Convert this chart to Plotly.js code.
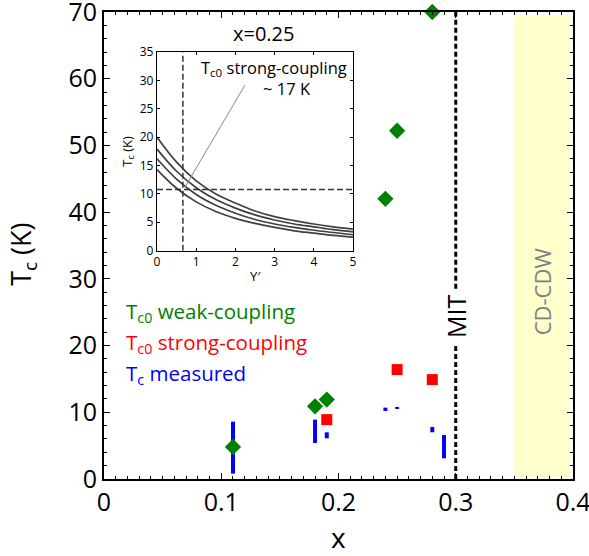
<!DOCTYPE html>
<html>
<head>
<meta charset="utf-8">
<script src="https://cdn.plot.ly/plotly-3.0.1.min.js"></script>
<style>html,body{margin:0;padding:0;background:#fff;}#chart{width:589px;height:556px;}</style>
</head>
<body>
<div id="chart"></div>
<script>
// ---- main panel data ----
const weakX = [0.11, 0.18, 0.19, 0.24, 0.25, 0.28];
const weakY = [4.8, 10.9, 11.9, 42.0, 52.2, 70.0];
const strongX = [0.19, 0.25, 0.28];
const strongY = [8.9, 16.4, 14.9];
const measuredX = [0.11, 0.18, 0.19, 0.24, 0.25, 0.28, 0.29];
const measuredLow = [0.8, 5.4, 6.1, 10.2, 10.5, 7.0, 3.1];
const measuredHigh = [8.6, 8.9, 7.0, 10.7, 10.8, 7.8, 6.6];
const mitX = 0.3;
const cdwRange = [0.35, 0.397];
const xTickVals = [0, 0.1, 0.2, 0.3, 0.4];
const xTickText = ["0", "0.1", "0.2", "0.3", "0.4"];
const yTickVals = [0, 10, 20, 30, 40, 50, 60, 70];

// ---- inset data (x = 0.25) ----
const yPrime = [0, 0.5, 1, 1.5, 2, 2.5, 3, 3.5, 4, 4.5, 5];
const curve1 = [20.0, 15.6, 12.3, 10.0, 8.4, 7.0, 6.0, 5.3, 4.7, 4.2, 3.8];
const curve2 = [17.9, 14.0, 11.1, 9.0, 7.5, 6.3, 5.4, 4.7, 4.2, 3.7, 3.3];
const curve3 = [16.2, 12.6, 9.9, 8.0, 6.6, 5.5, 4.7, 4.1, 3.6, 3.2, 2.8];
const curve4 = [14.3, 11.0, 8.6, 6.9, 5.7, 4.8, 4.1, 3.5, 3.1, 2.7, 2.4];
const insetXTicks = [0, 1, 2, 3, 4, 5];
const insetYTicks = [0, 5, 10, 15, 20, 25, 30, 35];
const insetYPrimeCut = 0.66;
const insetTcCut = 10.8;

const FONT = "Open Sans, DejaVu Sans, sans-serif";
const GREEN = "#008000", RED = "#ff0000", BLUE = "#0000ff";

// build measured segments
const segX = [], segY = [];
measuredX.forEach((x, i) => { segX.push(x, x, null); segY.push(measuredLow[i], measuredHigh[i], null); });

const traces = [
  {x: segX, y: segY, mode: "lines", line: {color: BLUE, width: 4}, xaxis: "x", yaxis: "y", hoverinfo: "skip"},
  {x: weakX, y: weakY, mode: "markers", marker: {symbol: "diamond", size: 12.5, color: GREEN, line: {width: 0}}, cliponaxis: false, xaxis: "x", yaxis: "y"},
  {x: strongX, y: strongY, mode: "markers", marker: {symbol: "square", size: 11, color: RED, line: {width: 0}}, cliponaxis: false, xaxis: "x", yaxis: "y"}
];
[curve1, curve2, curve3, curve4].forEach(c => {
  traces.push({x: yPrime, y: c, mode: "lines", line: {color: "#404040", width: 1.7, shape: "spline"}, xaxis: "x2", yaxis: "y2"});
});

function py(pix) { return (479.3 - pix) / 467.3; }
function px(pix) { return (pix - 104) / 469; }

const layout = {
  width: 589, height: 556,
  margin: {l: 104, r: 16, t: 12, b: 77},
  paper_bgcolor: "#fff", plot_bgcolor: "rgba(0,0,0,0)",
  showlegend: false,
  font: {family: FONT, color: "#000"},
  xaxis: {
    domain: [0, 1], range: [0, 0.4], tickmode: "array", tickvals: xTickVals, ticktext: xTickText,
    ticklabeloverflow: "allow",
    ticks: "inside", ticklen: 6, tickwidth: 1.2, tickcolor: "#000",
    minor: {dtick: 0.01, tick0: 0, ticks: "inside", ticklen: 3, tickcolor: "#000", tickwidth: 1},
    showline: true, linewidth: 2, linecolor: "#000", mirror: "ticks",
    showgrid: false, zeroline: false,
    tickfont: {size: 25, family: FONT}, anchor: "y"
  },
  yaxis: {
    domain: [0, 1], range: [0, 70], tickmode: "array", tickvals: yTickVals,
    ticklabeloverflow: "allow",
    ticks: "inside", ticklen: 6, tickwidth: 1.2, tickcolor: "#000",
    minor: {dtick: 2, tick0: 0, ticks: "inside", ticklen: 3, tickcolor: "#000", tickwidth: 1},
    showline: true, linewidth: 2, linecolor: "#000", mirror: "ticks",
    showgrid: false, zeroline: false,
    tickfont: {size: 25, family: FONT}, anchor: "x"
  },
  xaxis2: {
    domain: [0.113, 0.531], range: [0, 5], tickmode: "array", tickvals: insetXTicks,
    ticks: "inside", ticklen: 3, tickcolor: "#000",
    showline: true, linewidth: 1.2, linecolor: "#000", mirror: "ticks",
    showgrid: false, zeroline: false, anchor: "y2",
    tickfont: {size: 12, family: FONT},
    title: {text: "Y′", font: {size: 13, family: FONT}, standoff: 2}
  },
  yaxis2: {
    domain: [0.489, 0.914], range: [0, 35], tickmode: "array", tickvals: insetYTicks,
    ticks: "inside", ticklen: 3, tickcolor: "#000",
    showline: true, linewidth: 1.2, linecolor: "#000", mirror: "ticks",
    showgrid: false, zeroline: false, anchor: "x2",
    tickfont: {size: 12, family: FONT},
    title: {text: "T<sub>c</sub> (K)", font: {size: 13, family: FONT}, standoff: 4}
  },
  shapes: [
    {type: "rect", xref: "x", yref: "y", x0: cdwRange[0], x1: cdwRange[1], y0: 0.3, y1: 69.5, fillcolor: "#ffffcc", line: {width: 0}, layer: "below"},
    {type: "line", xref: "x", yref: "y", x0: mitX, x1: mitX, y0: 0, y1: 20.0, line: {color: "#000", width: 3, dash: "5px,3px"}},
    {type: "line", xref: "x", yref: "y", x0: mitX, x1: mitX, y0: 28.5, y1: 70, line: {color: "#000", width: 3, dash: "5px,3px"}},
    {type: "line", xref: "x2", yref: "y2", x0: insetYPrimeCut, x1: insetYPrimeCut, y0: 0, y1: 35, line: {color: "#333", width: 1.5, dash: "6px,3px"}},
    {type: "line", xref: "x2", yref: "y2", x0: 0, x1: 5, y0: insetTcCut, y1: insetTcCut, line: {color: "#333", width: 1.5, dash: "6px,3px"}},
    {type: "line", xref: "x2", yref: "y2", x0: 2.245, x1: 0.714, y0: 29.2, y1: 11.2, line: {color: "#888", width: 1}}
  ],
  annotations: [
    {xref: "paper", yref: "paper", x: px(23), y: py(255), xanchor: "center", yanchor: "middle", text: "T<sub>c</sub> (K)", textangle: -90, showarrow: false, font: {size: 27, family: FONT}},
    {xref: "x", yref: "paper", x: 0.2, y: py(537), xanchor: "center", yanchor: "middle", text: "x", showarrow: false, font: {size: 28, family: FONT}},
    {xref: "x", yref: "y", x: mitX, y: 24.4, xanchor: "center", yanchor: "middle", text: "MIT", textangle: -90, showarrow: false, font: {size: 25, family: FONT}},
    {xref: "x", yref: "y", x: 0.3734, y: 28.1, xanchor: "center", yanchor: "middle", text: "CD-CDW", textangle: -90, showarrow: false, font: {size: 22, family: FONT, color: "#808080"}},
    {xref: "paper", yref: "paper", x: px(124), y: py(312), xanchor: "left", yanchor: "middle", text: "T<sub>c0</sub> weak-coupling", showarrow: false, font: {size: 20.5, family: FONT, color: GREEN}},
    {xref: "paper", yref: "paper", x: px(124), y: py(343), xanchor: "left", yanchor: "middle", text: "T<sub>c0</sub> strong-coupling", showarrow: false, font: {size: 20.5, family: FONT, color: RED}},
    {xref: "paper", yref: "paper", x: px(124), y: py(374), xanchor: "left", yanchor: "middle", text: "T<sub>c</sub> measured", showarrow: false, font: {size: 20.5, family: FONT, color: BLUE}},
    {xref: "paper", yref: "paper", x: px(263), y: py(34), xanchor: "center", yanchor: "middle", text: "x=0.25", showarrow: false, font: {size: 20, family: FONT}},
    {xref: "paper", yref: "paper", x: px(274), y: py(68), xanchor: "center", yanchor: "middle", text: "T<sub>c0</sub> strong-coupling", showarrow: false, font: {size: 16.5, family: FONT}},
    {xref: "paper", yref: "paper", x: px(287), y: py(89), xanchor: "center", yanchor: "middle", text: "~ 17 K", showarrow: false, font: {size: 16.5, family: FONT}}
  ]
};

Plotly.newPlot("chart", traces, layout, {staticPlot: true, displayModeBar: false});
</script>
</body>
</html>
